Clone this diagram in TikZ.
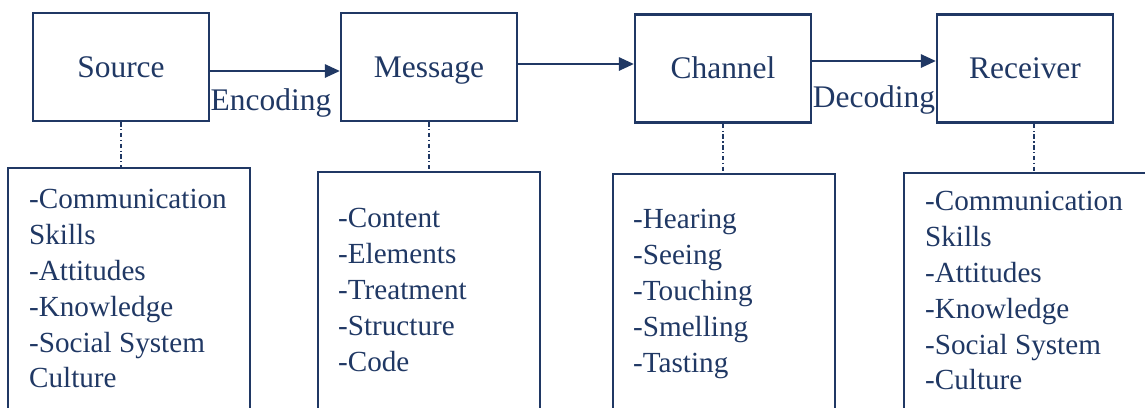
\documentclass[tikz,border=0pt]{standalone}
\usepackage{fontspec}
\setmainfont{Liberation Serif}
\usetikzlibrary{arrows.meta,positioning}
\definecolor{navy}{HTML}{203864}

\begin{document}
\begin{tikzpicture}[
  x=0.02cm, y=-0.02cm,
  font=\fontsize{17.9}{21}\selectfont, color=navy,
  stage/.style={draw=navy, line width=1.4pt, minimum width=3.52cm,
                minimum height=2.16cm, inner sep=0pt, text height=11.8pt, text depth=0pt},
  infobox/.style={draw=navy, line width=1.4pt, minimum height=5.4cm,
                  anchor=north, inner sep=0pt},
  items/.style={anchor=north west, align=left, inner sep=0pt,
                font=\fontsize{16.6}{20.4}\selectfont},
  code/.style={inner sep=0pt, text height=11.8pt, text depth=0pt},
  arr/.style={line width=0.9pt, -{Triangle[length=0.3cm, width=0.27cm]}},
  link/.style={line width=0.6pt, dash pattern=on 2.5pt off 1.5pt on 0.6pt off 1.5pt}
]
\clip (0,0) rectangle (1145,407);

% the four stages
\node[stage] (src) at (121,67)   {Source};
\node[stage] (msg) at (429,67)   {Message};
\node[stage] (chn) at (723,68.5) {Channel};
\node[stage] (rcv) at (1025,68.5) {Receiver};

\draw[arr] ([yshift=-0.08cm]src.east) -- ([yshift=-0.08cm]src.east -| msg.west);
\draw[arr] ([yshift=0.06cm]msg.east) -- ([yshift=0.06cm]msg.east -| chn.west);
\draw[arr] ([yshift=0.15cm]chn.east) -- ([yshift=0.15cm]chn.east -| rcv.west);
\node[code] (enc) at (271,100.5) {Encoding};
\node[code] (dec) at (874,97)  {Decoding};

% boxes below
\node[infobox, minimum width=4.84cm] (srcinfo) at (129,167) {};
\node[infobox, minimum width=4.44cm] (msginfo) at (429,171) {};
\node[infobox, minimum width=4.44cm] (chninfo) at (724,173) {};
\node[infobox, minimum width=5cm]    (rcvinfo) at (1029,172) {};

\node[items] (srclist) at ([shift={(22,22)}]srcinfo.north west)
  {-Communication\\Skills\\-Attitudes\\-Knowledge\\-Social System\\Culture};
\node[items] (msglist) at ([shift={(21,37)}]msginfo.north west)
  {-Content\\-Elements\\-Treatment\\-Structure\\-Code};
\node[items] (chnlist) at ([shift={(21,36)}]chninfo.north west)
  {-Hearing\\-Seeing\\-Touching\\-Smelling\\-Tasting};
\node[items] (rcvlist) at ([shift={(22,19)}]rcvinfo.north west)
  {-Communication\\Skills\\-Attitudes\\-Knowledge\\-Social System\\-Culture};

\draw[link] (src.south) -- (src.south |- srcinfo.north);
\draw[link] (msg.south) -- (msg.south |- msginfo.north);
\draw[link] (chn.south) -- (chn.south |- chninfo.north);
\draw[link] ([xshift=0.18cm]rcv.south) -- ([xshift=0.18cm]rcv.south |- rcvinfo.north);
\end{tikzpicture}
\end{document}
